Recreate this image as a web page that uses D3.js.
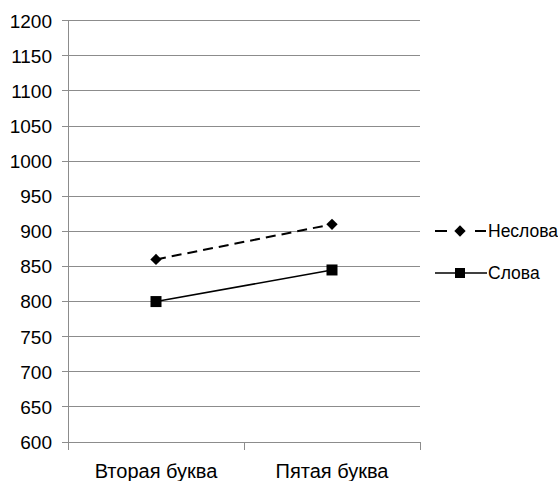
<!DOCTYPE html>
<html><head><meta charset="utf-8">
<script src="https://cdn.jsdelivr.net/npm/d3@7"></script>
<style>body{margin:0;background:#fff}</style></head>
<body><svg id="c" width="558" height="481"></svg>
<script>
const categories = ["Вторая буква", "Пятая буква"];
const seriesNames = ["Неслова", "Слова"];
const neslova = [860, 910];
const slova = [800, 845];
const yTicks = [600,650,700,750,800,850,900,950,1000,1050,1100,1150,1200];

(function(){
const svg = d3.select("#c");
const font = "Liberation Sans, Arial, sans-serif";
const mLeft = 68, mRight = 420, mTop = 20.7, mBottom = 442;
const y = d3.scaleLinear().domain([600,1200]).range([mBottom, mTop]);
const x = d3.scaleBand().domain(categories).range([mLeft, mRight]);
const grid = "#8c8c8c";

svg.append("g").selectAll("line").data(yTicks).join("line")
  .attr("x1", mLeft - 6).attr("x2", mRight)
  .attr("y1", d => y(d)).attr("y2", d => y(d))
  .attr("stroke", grid).attr("stroke-width", 1).attr("shape-rendering","crispEdges");
svg.append("line").attr("x1", mLeft).attr("x2", mLeft).attr("y1", mTop).attr("y2", mBottom)
  .attr("stroke", grid).attr("shape-rendering","crispEdges");
svg.append("g").selectAll("text").data(yTicks).join("text")
  .attr("x", mLeft - 16).attr("y", d => y(d)).attr("dy", "0.36em")
  .attr("text-anchor", "end").attr("font-family", font).attr("font-size", 19)
  .attr("fill", "#000").text(d => d);
const catEdges = [mLeft, ...categories.map(c => x(c) + x.bandwidth())];
svg.append("g").selectAll("line").data(catEdges).join("line")
  .attr("x1", d => d).attr("x2", d => d).attr("y1", mBottom).attr("y2", mBottom + 8)
  .attr("stroke", grid).attr("shape-rendering","crispEdges");
svg.append("g").selectAll("text").data(categories).join("text")
  .attr("x", d => x(d) + x.bandwidth()/2).attr("y", 478)
  .attr("text-anchor", "middle").attr("font-family", font).attr("font-size", 20)
  .attr("fill", "#000").text(d => d);

const cx = i => x(categories[i]) + x.bandwidth()/2;
const line = d3.line().x((d,i) => cx(i)).y(d => y(d));
const sq = d3.symbol().type(d3.symbolSquare).size(64)();

svg.append("path").attr("d", line(neslova)).attr("fill","none").attr("stroke","#000")
  .attr("stroke-width", 2).attr("stroke-dasharray", "10,6");
svg.append("g").selectAll("path").data(neslova).join("path")
  .attr("transform", (d,i) => `translate(${cx(i)},${y(d)}) rotate(45)`)
  .attr("d", sq).attr("fill","#000");
svg.append("path").attr("d", line(slova)).attr("fill","none").attr("stroke","#000").attr("stroke-width", 1.5);
svg.append("g").selectAll("rect").data(slova).join("rect")
  .attr("x", (d,i) => cx(i) - 5.5).attr("y", d => y(d) - 5.5)
  .attr("width", 11).attr("height", 11).attr("fill","#000");

const lg = svg.append("g").attr("font-family", font).attr("font-size", 17.5);
const ly = [231, 273];
lg.append("line").attr("x1", 435).attr("x2", 486).attr("y1", ly[0]).attr("y2", ly[0])
  .attr("stroke","#000").attr("stroke-width",2).attr("stroke-dasharray","12,28");
lg.append("path").attr("transform", `translate(460,${ly[0]}) rotate(45)`)
  .attr("d", sq).attr("fill","#000");
lg.append("line").attr("x1", 435).attr("x2", 487).attr("y1", ly[1]).attr("y2", ly[1])
  .attr("stroke","#000").attr("stroke-width",1.5);
lg.append("rect").attr("x", 455).attr("y", ly[1]-5).attr("width",10).attr("height",10).attr("fill","#000");
lg.selectAll("text").data(seriesNames).join("text")
  .attr("x", 488).attr("y", (d,i) => ly[i]).attr("dy","0.36em").attr("fill","#000").text(d => d);
})();
</script></body></html>
